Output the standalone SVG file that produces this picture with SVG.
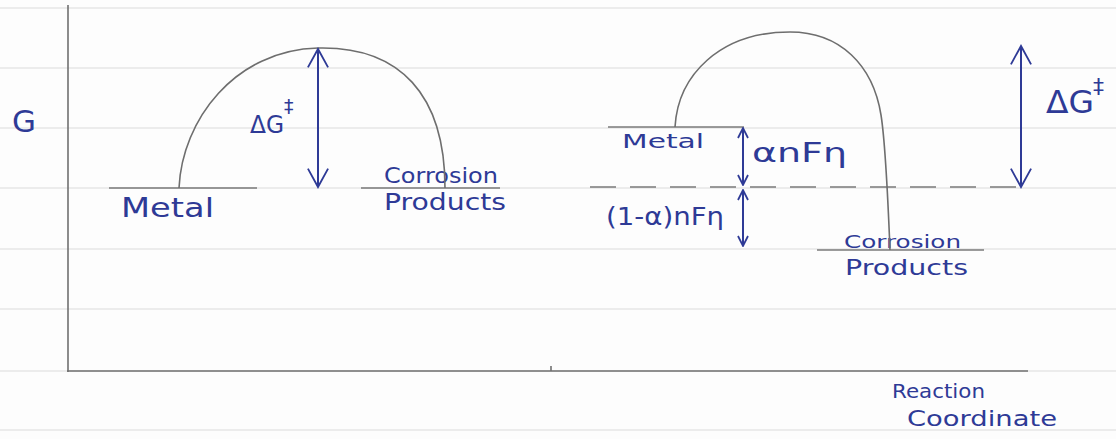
<svg xmlns="http://www.w3.org/2000/svg" width="1116" height="439" viewBox="0 0 1116 439">
<defs>
<style>
.rule{stroke:#dcdcdc;stroke-width:1.2}
.axis{stroke:#707070;stroke-width:1.6;fill:none}
.curve{stroke:#6e6e6e;stroke-width:1.6;fill:none}
.lvl{stroke:#7a7a7a;stroke-width:1.5}
.dash{stroke:#7a7a7a;stroke-width:1.5;stroke-dasharray:26 14}
.ink{fill:#2e3a96;font-family:"DejaVu Sans","Liberation Sans",sans-serif}
.arr{stroke:#2e3a96;stroke-width:2;fill:none}
.big{marker-start:url(#hb);marker-end:url(#hb)}
.sm{marker-start:url(#hs);marker-end:url(#hs)}
</style>
<marker id="hb" viewBox="0 0 24 24" refX="22" refY="12" markerWidth="22" markerHeight="22" markerUnits="userSpaceOnUse" orient="auto-start-reverse">
<path d="M2,1 L22,12 L2,23" fill="none" stroke="#2e3a96" stroke-width="2"/>
</marker>
<marker id="hs" viewBox="0 0 24 24" refX="22" refY="12" markerWidth="12" markerHeight="12" markerUnits="userSpaceOnUse" orient="auto-start-reverse">
<path d="M2,2 L22,12 L2,22" fill="none" stroke="#2e3a96" stroke-width="3.5"/>
</marker>
</defs>
<rect width="1116" height="439" fill="#fdfdfd"/>
<g id="paper">
<line class="rule" x1="0" y1="8" x2="1116" y2="8"/>
<line class="rule" x1="0" y1="68" x2="1116" y2="68"/>
<line class="rule" x1="0" y1="128" x2="1116" y2="128"/>
<line class="rule" x1="0" y1="188" x2="1116" y2="188"/>
<line class="rule" x1="0" y1="249" x2="1116" y2="249"/>
<line class="rule" x1="0" y1="309" x2="1116" y2="309"/>
<line class="rule" x1="0" y1="371" x2="1116" y2="371"/>
<line class="rule" x1="0" y1="430" x2="1116" y2="430"/>
</g>
<g id="axes">
<line class="axis" x1="68" y1="5" x2="68" y2="372"/>
<line class="axis" x1="67" y1="371" x2="1028" y2="371"/>
<line class="axis" x1="551" y1="366" x2="551" y2="371" stroke-width="1"/>
<text class="ink" x="12" y="132" font-size="30" textLength="24" lengthAdjust="spacingAndGlyphs">G</text>
<text class="ink" x="892" y="398" font-size="20" textLength="93" lengthAdjust="spacingAndGlyphs">Reaction</text>
<text class="ink" x="907" y="426" font-size="22" textLength="150" lengthAdjust="spacingAndGlyphs">Coordinate</text>
</g>
<g id="left-metal">
<line class="lvl" x1="109" y1="188" x2="257" y2="188"/>
<text class="ink" x="121" y="217" font-size="27" textLength="93" lengthAdjust="spacingAndGlyphs">Metal</text>
</g>
<g id="left-products">
<line class="lvl" x1="361" y1="188" x2="500" y2="188"/>
<text class="ink" x="384" y="183" font-size="21" textLength="114" lengthAdjust="spacingAndGlyphs">Corrosion</text>
<text class="ink" x="384" y="210" font-size="23" textLength="122" lengthAdjust="spacingAndGlyphs">Products</text>
</g>
<g id="left-barrier">
<path class="curve" d="M179,188 C182,120 235,50 318,48 C400,46 445,95 445,188"/>
<text class="ink" x="250" y="133" font-size="24" textLength="34" lengthAdjust="spacingAndGlyphs">ΔG</text>
<text class="ink" x="284" y="113" font-size="19">‡</text>
</g>
<g id="right-metal">
<line class="lvl" x1="608" y1="127" x2="744" y2="127"/>
<text class="ink" x="622" y="148" font-size="20" textLength="82" lengthAdjust="spacingAndGlyphs">Metal</text>
</g>
<g id="right-shifted-level">
<line class="dash" x1="590" y1="187" x2="1017" y2="187"/>
</g>
<g id="right-products">
<line class="lvl" x1="817" y1="250" x2="984" y2="250"/>
<text class="ink" x="844" y="248" font-size="18" textLength="117" lengthAdjust="spacingAndGlyphs">Corrosion</text>
<text class="ink" x="845" y="275" font-size="22" textLength="123" lengthAdjust="spacingAndGlyphs">Products</text>
</g>
<g id="right-barrier">
<path class="curve" d="M675,127 C678,75 720,32 790,32 C840,32 873,65 881,115 C885,140 888,200 890,250"/>
<text class="ink" x="1046" y="113" font-size="32" textLength="48" lengthAdjust="spacingAndGlyphs">ΔG</text>
<text class="ink" x="1093" y="94" font-size="22">‡</text>
<text class="ink" x="752" y="162" font-size="26" textLength="95" lengthAdjust="spacingAndGlyphs">αnFη</text>
<text class="ink" x="606" y="225" font-size="24" textLength="118" lengthAdjust="spacingAndGlyphs">(1-α)nFη</text>
</g>
<g id="connectors">
<line class="arr big" x1="318" y1="49" x2="318" y2="187"/>
<line class="arr big" x1="1021" y1="46" x2="1021" y2="187"/>
<line class="arr sm" x1="743" y1="128" x2="743" y2="185"/>
<line class="arr sm" x1="743" y1="190" x2="743" y2="246"/>
</g>
</svg>
